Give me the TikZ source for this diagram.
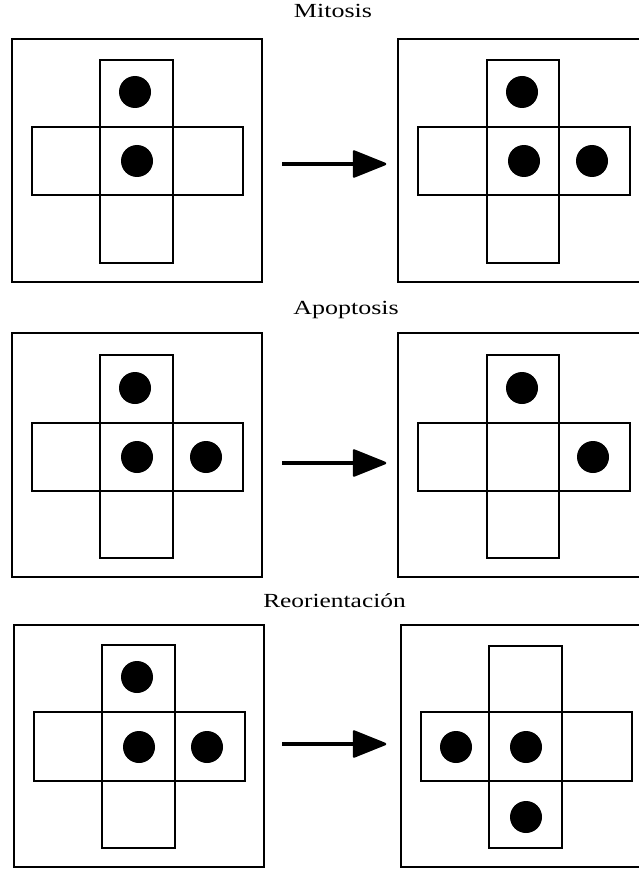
\documentclass[tikz,border=0pt]{standalone}
\usepackage{fontspec}
\setmainfont{Liberation Serif}
\tikzset{
  frame/.style={draw=black, line width=1.8pt},
  cell/.style={draw=black, line width=1.8pt},
  dot/.style={fill=black},
  title/.style={anchor=base, inner sep=0pt, font=\fontsize{20}{23}\selectfont},
  shaft/.style={draw=black, line width=4.5pt},
  head/.style={fill=black, draw=black, line width=2.5pt, line join=round}
}
\newcommand{\bigarrowat}[2]{%
  \coordinate (#1s) at (282,#2);
  \coordinate (#1m) at (356,#2);
  \coordinate (#1e) at (385,#2);
  \draw[shaft] (#1s) -- (#1m);
  \filldraw[head] ($(#1m)+(-2,-12.5)$) -- (#1e) -- ($(#1m)+(-2,12.5)$) -- cycle;
}
\usetikzlibrary{calc}
\begin{document}
\begin{tikzpicture}[x=1pt,y=-1pt]
\useasboundingbox (0,0) rectangle (639,869);
\clip (0,0) rectangle (639,869);
\fill[white] (0,0) rectangle (639,869);

% ---------- Row 1: Mitosis ----------
\node[title] (t1) at (333,18) {\scalebox{1.3}[1]{Mitosis}};
\draw[frame] (12,39) rectangle (262,282);
\draw[cell] (100,60) rectangle (173,263);
\draw[cell] (32,127) rectangle (243,195);
\fill[dot] (135,92) circle (16);
\fill[dot] (137,161) circle (16);
\draw[frame] (398,39) rectangle (650,282);
\draw[cell] (487,60) rectangle (559,263);
\draw[cell] (418,127) rectangle (630,195);
\fill[dot] (522,92) circle (16);
\fill[dot] (524,161) circle (16);
\fill[dot] (592,161) circle (16);
\bigarrowat{a1}{164}

% ---------- Row 2: Apoptosis ----------
\node[title] (t2) at (346,314) {\scalebox{1.3}[1]{Apoptosis}};
\draw[frame] (12,333) rectangle (262,577);
\draw[cell] (100,355) rectangle (173,558);
\draw[cell] (32,423) rectangle (243,491);
\fill[dot] (135,388) circle (16);
\fill[dot] (137,457) circle (16);
\fill[dot] (206,457) circle (16);
\draw[frame] (398,333) rectangle (650,577);
\draw[cell] (487,355) rectangle (559,558);
\draw[cell] (418,423) rectangle (630,491);
\fill[dot] (522,388) circle (16);
\fill[dot] (593,457) circle (16);
\bigarrowat{a2}{463}

% ---------- Row 3: Reorientación ----------
\node[title] (t3) at (334.5,607) {\scalebox{1.27}[1]{Reorientación}};
\draw[frame] (14,625) rectangle (264,867);
\draw[cell] (102,645) rectangle (175,848);
\draw[cell] (34,712) rectangle (245,781);
\fill[dot] (137,677) circle (16);
\fill[dot] (139,747) circle (16);
\fill[dot] (207,747) circle (16);
\draw[frame] (401,625) rectangle (650,867);
\draw[cell] (489,646) rectangle (562,848);
\draw[cell] (421,712) rectangle (632,781);
\fill[dot] (456,747) circle (16);
\fill[dot] (526,747) circle (16);
\fill[dot] (526,817) circle (16);
\bigarrowat{a3}{744}
\end{tikzpicture}
\end{document}
